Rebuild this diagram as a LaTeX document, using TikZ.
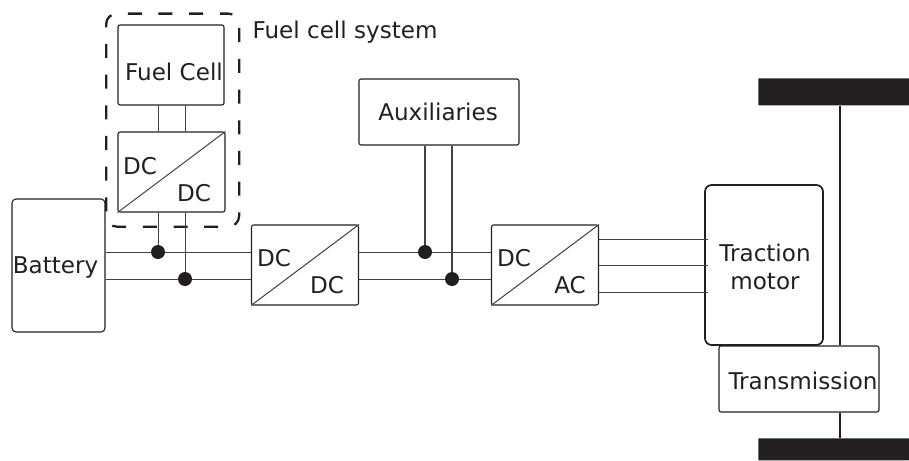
\documentclass[tikz,border=0pt]{standalone}
\usepackage{fontspec}
\setmainfont{DejaVu Sans}
\definecolor{ink}{RGB}{35,31,32}
\begin{document}
\begin{tikzpicture}[x=0.75pt,y=-0.75pt,
  box/.style={draw=ink,line width=0.8pt,rounded corners=1.5pt,inner sep=0pt},
  wire/.style={draw=ink!85,line width=0.75pt},
  thick wire/.style={draw=ink,line width=2pt},
  label/.style={inner sep=0pt,text=ink,font=\fontsize{17.3}{21.5}\selectfont,align=center},
  dot/.style={circle,fill=ink,draw=none,minimum size=10.5pt,inner sep=0pt},
  wheel/.style={fill=ink,draw=none,inner sep=0pt,rounded corners=0.5pt}]
\useasboundingbox (0,0) rectangle (909,460);
% boxes
\node[box,minimum width=79.5pt,minimum height=60pt] (fc) at (171,65) {};
\node[box,minimum width=80.25pt,minimum height=60pt] (conv1) at (171.5,172) {};
\node[box,minimum width=88.5pt,minimum height=120pt,line width=1.3pt,rounded corners=5pt] (mot) at (764,265) {};
\node[box,minimum width=69.75pt,minimum height=99.75pt,rounded corners=3pt] (bat) at (58.5,265.5) {};
\node[box,minimum width=80.25pt,minimum height=60pt] (conv2) at (305,265) {};
\node[box,minimum width=120pt,minimum height=49.5pt] (aux) at (439,112) {};
\node[box,minimum width=80.25pt,minimum height=60pt] (conv3) at (545,265) {};
\node[box,fill=white,minimum width=120pt,minimum height=49.5pt] (tra) at (799,379) {};
\node[wheel,minimum width=113.25pt,minimum height=20.25pt,anchor=north west] (wt) at (758,78) {};
\node[wheel,minimum width=113.25pt,minimum height=16.5pt,anchor=north west] (wb) at (758,438) {};
% dashed outline
\node[draw=ink,line width=1.7pt,dash pattern=on 10.5pt off 12.5pt,dash phase=4pt,rounded corners=8pt,inner sep=0pt,minimum width=99.75pt,minimum height=159.75pt,anchor=north west] (fcs) at (105,12.5) {};
% junctions
\coordinate (j1) at (158,252);
\coordinate (j2) at (185,279);
\coordinate (j3) at (425,252);
\coordinate (j4) at (452,279);
\coordinate (m1) at (708,239);
\coordinate (m2) at (708,265);
\coordinate (m3) at (708,292);
\coordinate (ax) at (840,100);
% diagonals
\draw[wire] (conv1.south west) -- (conv1.north east);
\draw[wire] (conv2.south west) -- (conv2.north east);
\draw[wire] (conv3.south west) -- (conv3.north east);
% wires
\draw[wire] (fc.south -| j1) -- (conv1.north -| j1);
\draw[wire] (fc.south -| j2) -- (conv1.north -| j2);
\draw[wire] (conv1.south -| j1) -- (j1);
\draw[wire] (conv1.south -| j2) -- (j2);
\draw[wire] (bat.east |- j1) -- (conv2.west |- j1);
\draw[wire] (bat.east |- j2) -- (conv2.west |- j2);
\draw[wire] (conv2.east |- j3) -- (conv3.west |- j3);
\draw[wire] (conv2.east |- j4) -- (conv3.west |- j4);
\draw[wire,line width=1.1pt] (aux.south -| j3) -- (j3);
\draw[wire,line width=1.1pt] (aux.south -| j4) -- (j4);
\draw[wire,line width=0.6pt] (conv3.east |- m1) -- (m1);
\draw[wire,line width=0.6pt] (conv3.east |- m2) -- (m2);
\draw[wire,line width=0.6pt] (conv3.east |- m3) -- (m3);
\draw[thick wire] (wt.south -| ax) -- (tra.north -| ax);
\draw[thick wire] (tra.south -| ax) -- (wb.north -| ax);
% dots
\node[dot] (d1) at (j1) {};
\node[dot] (d2) at (j2) {};
\node[dot] (d3) at (j3) {};
\node[dot] (d4) at (j4) {};
% labels
\node[label] (l0) at (345,32) {Fuel cell system};
\node[label] (l1) at (174,72) {Fuel Cell};
\node[label] (l2) at (140,166) {DC};
\node[label] (l3) at (194,193) {DC};
\node[label] (l4) at (55.5,267) {Battery};
\node[label] (l5) at (274,258) {DC};
\node[label] (l6) at (327,285) {DC};
\node[label] (l7) at (438,112) {Auxiliaries};
\node[label] (l8) at (514,258) {DC};
\node[label] (l9) at (570,285) {AC};
\node[label] (l10) at (765,267) {Traction\\motor};
\node[label] (l11) at (803,381) {Transmission};
\end{tikzpicture}
\end{document}
